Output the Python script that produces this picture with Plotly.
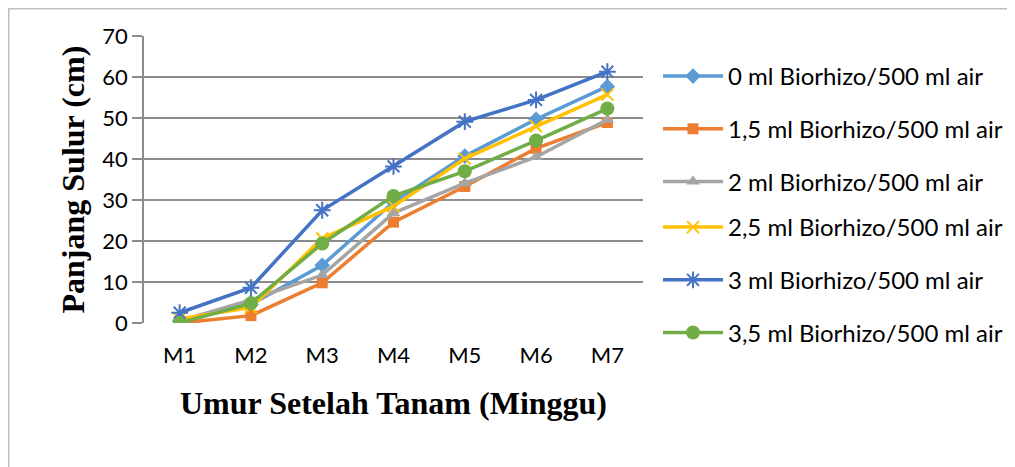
import plotly.graph_objects as go

categories = ["M1", "M2", "M3", "M4", "M5", "M6", "M7"]
series_names = [
    "0 ml Biorhizo/500 ml air",
    "1,5 ml Biorhizo/500 ml air",
    "2 ml Biorhizo/500 ml air",
    "2,5 ml Biorhizo/500 ml air",
    "3 ml Biorhizo/500 ml air",
    "3,5 ml Biorhizo/500 ml air",
]
s0 = [0.5, 4.5, 14.1, 29.5, 40.7, 49.7, 57.7]
s15 = [0.0, 1.8, 9.8, 24.6, 33.3, 42.6, 48.9]
s2 = [0.5, 5.6, 11.7, 26.8, 34.1, 40.5, 49.6]
s25 = [1.0, 3.8, 20.6, 28.5, 40.1, 48.0, 55.7]
s3 = [2.5, 8.6, 27.5, 38.2, 49.1, 54.4, 61.3]
s35 = [0.0, 4.8, 19.4, 31.0, 37.0, 44.5, 52.3]
y_ticks = [0, 10, 20, 30, 40, 50, 60, 70]

all_series = [s0, s15, s2, s25, s3, s35]
colors = ["#5B9BD5", "#ED7D31", "#A5A5A5", "#FFC000", "#4472C4", "#70AD47"]
symbols = ["diamond", "square", "triangle-up", "x-thin-open", "asterisk-open", "circle"]
sizes = [12, 11, 12, 12, 14, 14]

# figure is placed by the page at (8, 8); all pixel targets below are page coords - 8
FW, FH = 1007, 459
L, T = 136, 28
PR, PB = 635, 315
R, B = FW - PR, FH - PB
W, H = PR - L, PB - T

fig = go.Figure()
for i, (name, vals) in enumerate(zip(series_names, all_series)):
    mk = dict(symbol=symbols[i], size=sizes[i], color=colors[i])
    if symbols[i].endswith("open"):
        mk["line"] = dict(color=colors[i], width=2)
    fig.add_trace(go.Scatter(
        x=categories, y=vals, name=name, mode="lines+markers",
        line=dict(color=colors[i], width=3.5), marker=mk,
        legendgroup=f"g{i}",
        legend="legend" if i < 3 else "legend2",
    ))

legend_common = dict(
    xref="container", yref="container", xanchor="left", yanchor="top",
    font=dict(size=24, family="Lato, Liberation Sans, sans-serif", color="#000000"),
    traceorder="grouped", tracegroupgap=18.5,
    itemwidth=60, bgcolor="rgba(0,0,0,0)",
)

fig.update_layout(
    width=FW, height=FH,
    margin=dict(l=L, r=R, t=T, b=B, pad=0, autoexpand=False),
    paper_bgcolor="white", plot_bgcolor="white",
    font=dict(family="Lato, Liberation Sans, sans-serif", color="#000000", size=22),
    showlegend=True,
    legend=dict(x=650 / FW, y=1 - 46 / FH, **legend_common),
    legend2=dict(x=650 / FW, y=1 - 197 / FH, **legend_common),
    xaxis=dict(
        type="category", range=[-0.5, 6.5], showgrid=False, zeroline=False,
        showline=False, ticks="", tickfont=dict(size=22), ticklabelstandoff=17,
        automargin=False,
    ),
    yaxis=dict(
        range=[0, 70], tickvals=y_ticks, showgrid=True, gridcolor="#8C8C8C",
        gridwidth=1.5, zeroline=False, showline=True, linecolor="#8C8C8C",
        linewidth=1.5, ticks="outside", ticklen=10, tickcolor="#8C8C8C",
        tickwidth=1.5, tickfont=dict(size=22), ticklabelstandoff=0,
        automargin=False,
    ),
    annotations=[
        dict(text="<b>Panjang Sulur (cm)</b>", xref="paper", yref="paper",
             x=(64 - L) / W, y=0.5, textangle=-90, showarrow=False,
             xanchor="center", yanchor="middle",
             font=dict(family="Liberation Serif, Times New Roman, serif", size=32, color="#000000")),
        dict(text="<b>Umur Setelah Tanam (Minggu)</b>", xref="paper", yref="paper",
             x=0.5, y=(PB - 395) / H, showarrow=False,
             xanchor="center", yanchor="middle",
             font=dict(family="Liberation Serif, Times New Roman, serif", size=32, color="#000000")),
    ],
    shapes=[
        dict(type="line", xref="paper", yref="paper",
             x0=(0 - L) / W, x1=(FW - L) / W, y0=(PB - 0.75) / H, y1=(PB - 0.75) / H,
             line=dict(color="#BFBFBF", width=1.5)),
        dict(type="line", xref="paper", yref="paper",
             x0=(0.75 - L) / W, x1=(0.75 - L) / W, y0=(PB - 0) / H, y1=(PB - FH) / H,
             line=dict(color="#BFBFBF", width=1.5)),
    ],
)

fig.write_html("out.html")
